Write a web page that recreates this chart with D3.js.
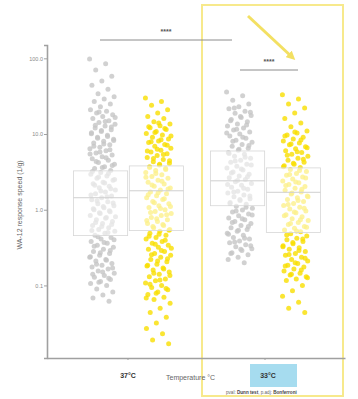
<!DOCTYPE html>
<html>
<head>
<meta charset="utf-8">
<script src="https://cdn.jsdelivr.net/npm/d3@7"></script>
<style>
  body { margin: 0; background: #fff; }
  text { font-family: "Liberation Sans", Arial, sans-serif; }
</style>
</head>
<body>
<script>
// groups on the x axis and the two conditions inside each group
const temps = ["37°C", "33°C"];
const conds = ["grey", "yellow"];
const yTicks = [0.1, 1, 10, 100];

const grey37 = [98, 85, 70, 58, 50, 44, 39, 34, 31, 29, 27, 25, 23, 21, 20, 19, 18, 17, 16, 15,
  14.2, 13.5, 12.8, 12, 11.4, 10.8, 10.1, 9.6, 9.1, 8.5, 8.0, 7.6, 7.2, 6.7, 6.4, 6.0, 5.6, 5.3, 5.0, 4.7,
  4.5, 4.2, 4.0, 3.7, 3.5, 3.3, 3.1, 2.95, 2.8, 2.6, 2.45, 2.3, 2.2, 2.05, 1.95, 1.82, 1.72, 1.62, 1.52, 1.44,
  1.35, 1.27, 1.2, 1.13, 1.06, 1.0, 0.94, 0.89, 0.84, 0.79, 0.74, 0.7, 0.66, 0.62, 0.58, 0.55, 0.52, 0.49, 0.46, 0.43,
  0.41, 0.38, 0.36, 0.34, 0.32, 0.3, 0.28, 0.265, 0.25, 0.235, 0.22, 0.21, 0.195, 0.185, 0.175, 0.165, 0.155, 0.145,
  0.135, 0.128, 0.12, 0.113, 0.106, 0.1, 0.09, 0.082, 0.075, 0.068, 0.062,
  19.5, 16.5, 14.6, 13.1, 12.4, 11.1, 10.4, 9.3, 8.8, 8.2, 7.4, 6.9, 6.2, 5.8, 5.45, 4.85, 4.35, 3.85, 3.6, 3.2,
  3.0, 2.7, 2.5, 2.25, 2.1, 1.9, 1.77, 1.57, 1.48, 1.31, 1.23, 1.1, 1.03, 0.97, 0.91, 0.81, 0.77, 0.68, 0.64, 0.6,
  0.53, 0.5, 0.44, 0.4, 0.37, 0.33, 0.29, 0.27, 0.24, 0.215, 0.19, 0.17, 0.15, 0.14, 0.124, 0.11];
const yellow37 = [30, 27, 24, 21, 19, 17, 16,
  14.5, 13.6, 12.9, 12.1, 11.5, 10.8, 10.2, 9.7, 9.1, 8.6, 8.1, 7.7, 7.3, 6.9, 6.5, 6.1, 5.8, 5.5, 5.2, 4.9,
  4.6, 4.3, 4.1, 3.9, 3.7, 3.5, 3.3, 3.1, 2.9, 2.75, 2.6, 2.45, 2.3, 2.18, 2.05, 1.93, 1.82, 1.72, 1.62, 1.53,
  1.44, 1.36, 1.28, 1.2, 1.13, 1.07, 1.0, 0.95, 0.89, 0.84, 0.79, 0.74, 0.7, 0.66, 0.62, 0.58, 0.55, 0.52, 0.49,
  0.46, 0.43, 0.41, 0.38, 0.36, 0.34, 0.32, 0.3, 0.28, 0.265, 0.25, 0.235, 0.22, 0.205, 0.19, 0.18, 0.17, 0.16,
  0.15, 0.14, 0.13, 0.122, 0.115, 0.108, 0.1, 0.094, 0.088, 0.082, 0.076, 0.07, 0.065,
  0.058, 0.05, 0.044, 0.038, 0.032, 0.027, 0.023, 0.019, 0.017,
  14, 12.5, 11.8, 10.5, 9.4, 8.4, 7.9, 7.1, 6.3, 5.95, 5.35, 4.75, 4.45, 4.0, 3.6, 3.4, 3.0, 2.68, 2.38, 2.12,
  1.88, 1.67, 1.58, 1.4, 1.24, 1.1, 1.04, 0.92, 0.86, 0.76, 0.72, 0.64, 0.6, 0.535, 0.475, 0.445, 0.395, 0.35,
  0.31, 0.29, 0.255, 0.225, 0.21, 0.185, 0.165, 0.145, 0.135, 0.118, 0.104, 0.091, 0.079, 0.068];
const grey33 = [36, 32, 28, 25,
  23, 21.5, 20, 18.8, 17.6, 16.5, 15.5, 14.5, 13.6, 12.8, 12, 11.3, 10.6, 10, 9.4, 8.8, 8.3, 7.8, 7.3, 6.9,
  6.5, 6.1, 5.7, 5.4, 5.1, 4.8, 4.5, 4.25, 4.0, 3.75, 3.55, 3.35, 3.15, 2.95, 2.8, 2.65, 2.5, 2.35, 2.22, 2.1,
  1.98, 1.87, 1.76, 1.66, 1.57, 1.48, 1.4, 1.32, 1.25, 1.18, 1.11, 1.05, 0.99, 0.93, 0.88, 0.83, 0.78, 0.74,
  0.7, 0.66, 0.62, 0.58, 0.55, 0.52, 0.49, 0.46, 0.43, 0.41, 0.385, 0.365, 0.345, 0.325, 0.305, 0.29, 0.27, 0.255,
  0.235, 0.22, 0.2,
  22, 19.4, 17, 15, 13.2, 11.6, 10.3, 9.1, 8.0, 7.05, 6.3, 5.55, 4.95, 4.4, 3.9, 3.45, 3.05, 2.72, 2.43, 2.16,
  1.92, 1.71, 1.52, 1.36, 1.21, 1.08, 0.96, 0.85, 0.76, 0.68, 0.6, 0.535, 0.475, 0.42, 0.375, 0.335, 0.3, 0.265];
const yellow33 = [33, 29, 25, 22, 19, 16, 14, 12.5,
  11, 10.3, 9.7, 9.1, 8.6, 8.1, 7.6, 7.2, 6.8, 6.4, 6.0, 5.7, 5.4, 5.1, 4.8, 4.5, 4.25, 4.0, 3.8, 3.6, 3.4,
  3.2, 3.0, 2.85, 2.7, 2.55, 2.4, 2.27, 2.15, 2.03, 1.92, 1.81, 1.71, 1.61, 1.52, 1.44, 1.36, 1.28, 1.21, 1.14,
  1.08, 1.02, 0.96, 0.91, 0.86, 0.81, 0.76, 0.72, 0.68, 0.64, 0.6, 0.57, 0.54, 0.51, 0.48, 0.45, 0.42, 0.4,
  0.38, 0.355, 0.335, 0.315, 0.3, 0.28, 0.265, 0.25, 0.235, 0.22, 0.21, 0.195, 0.185, 0.175, 0.165, 0.155,
  0.145, 0.137, 0.13, 0.122, 0.116, 0.1, 0.085, 0.072, 0.06, 0.05, 0.044,
  10.6, 9.4, 8.35, 7.4, 6.6, 5.85, 5.25, 4.65, 4.12, 3.7, 3.3, 2.92, 2.62, 2.33, 2.09, 1.86, 1.66, 1.48, 1.32,
  1.17, 1.05, 0.93, 0.83, 0.74, 0.66, 0.585, 0.525, 0.465, 0.41, 0.37, 0.325, 0.29, 0.257, 0.228, 0.2, 0.18,
  0.16, 0.141, 0.126];

// box summaries (37 grey, 37 yellow, 33 grey, 33 yellow)
const boxQ1 = [0.455, 0.53, 1.13, 0.5];
const boxMed = [1.44, 1.78, 2.41, 1.7];
const boxQ3 = [3.26, 3.79, 5.97, 3.57];

const W = 358, H = 399;
const svg = d3.select("body").append("svg")
  .attr("width", W)
  .attr("height", H);

const x = d3.scalePoint().domain(temps).range([47, 345]).padding(0.5875);
const xc = d3.scaleBand().domain(conds).range([-54, 56]).paddingInner(0.03);
const y = d3.scaleLog().domain([0.011, 150]).range([358, 45]);

const colors = { grey: "#c6c6c6", yellow: "#f9df00" };

// highlight frame around the 33°C group
svg.append("rect")
  .attr("x", 202).attr("y", 5)
  .attr("width", 141).attr("height", 391)
  .attr("fill", "none")
  .attr("stroke", "#f7e98c")
  .attr("stroke-width", 2);

const series = [
  { t: "37°C", c: "grey", v: grey37 },
  { t: "37°C", c: "yellow", v: yellow37 },
  { t: "33°C", c: "grey", v: grey33 },
  { t: "33°C", c: "yellow", v: yellow33 }
];

// jittered points
series.forEach(s => {
  const cx = x(s.t) + xc(s.c) + xc.bandwidth() / 2 + 2;
  svg.append("g").selectAll("circle")
    .data(s.v)
    .enter()
    .append("circle")
    .attr("cx", (d, i) => cx + (((i * 0.618034) % 1) - 0.5) * 26)
    .attr("cy", d => y(d))
    .attr("r", 2.5)
    .attr("fill", colors[s.c])
    .attr("fill-opacity", 0.8);
});

// boxes drawn over the points
series.forEach((s, i) => {
  const x0 = x(s.t) + xc(s.c);
  const g = svg.append("g");
  g.append("rect")
    .attr("x", x0)
    .attr("y", y(boxQ3[i]))
    .attr("width", xc.bandwidth())
    .attr("height", y(boxQ1[i]) - y(boxQ3[i]))
    .attr("fill", "#fff")
    .attr("fill-opacity", 0.55)
    .attr("stroke", "#d6d6d6")
    .attr("stroke-width", 0.8);
  g.append("line")
    .attr("x1", x0).attr("x2", x0 + xc.bandwidth())
    .attr("y1", y(boxMed[i])).attr("y2", y(boxMed[i]))
    .attr("stroke", "#cfcfcf")
    .attr("stroke-width", 1);
});

// y axis
const yAxis = svg.append("g")
  .attr("transform", "translate(47,0)")
  .call(d3.axisLeft(y).tickValues(yTicks).tickFormat(d3.format(".1f")).tickSize(3));
yAxis.select(".domain").attr("stroke", "#a0a0a0").attr("stroke-width", 1.6);
yAxis.selectAll(".tick line").attr("stroke", "#a0a0a0");
yAxis.selectAll(".tick text").attr("fill", "#8a8a8a").style("font-size", "5.5px").attr("x", -4);

svg.append("text")
  .attr("transform", "translate(22,205) rotate(-90)")
  .attr("text-anchor", "middle")
  .attr("fill", "#666")
  .style("font-size", "7px")
  .text("WA-12 response speed (1/g)");

// x axis
const xAxis = svg.append("g")
  .attr("transform", "translate(0,358)")
  .call(d3.axisBottom(x).tickSize(2).tickSizeOuter(0));
xAxis.select(".domain").attr("stroke", "#a0a0a0").attr("stroke-width", 1.6);
xAxis.selectAll(".tick line").attr("stroke", "#a0a0a0");
xAxis.selectAll(".tick text")
  .attr("fill", "#333")
  .attr("y", 15)
  .style("font-size", "7px")
  .style("font-weight", "bold");

// blue highlight behind the 33°C label
xAxis.selectAll(".tick").filter(d => d === "33°C")
  .each(function() {
    d3.select(this).insert("rect", "text")
      .attr("x", -15).attr("y", 6)
      .attr("width", 47).attr("height", 23)
      .attr("fill", "#a6dcef");
    d3.select(this).select("text").attr("x", 3);
  });

svg.append("text")
  .attr("x", 166).attr("y", 380)
  .attr("fill", "#666")
  .style("font-size", "7px")
  .text("Temperature °C");

const note = svg.append("text")
  .attr("x", 226).attr("y", 394)
  .attr("fill", "#666")
  .style("font-size", "4.6px");
note.append("tspan").text("pval: ");
note.append("tspan").style("font-weight", "bold").attr("fill", "#444").text("Dunn test");
note.append("tspan").text(", p.adj: ");
note.append("tspan").style("font-weight", "bold").attr("fill", "#444").text("Bonferroni");

// significance brackets
const brackets = [
  { x1: 100, x2: 232, yy: 40, label: "****" },
  { x1: 240, x2: 298, yy: 70, label: "****" }
];
brackets.forEach(b => {
  svg.append("line")
    .attr("x1", b.x1).attr("x2", b.x2)
    .attr("y1", b.yy).attr("y2", b.yy)
    .attr("stroke", "#8c8c8c")
    .attr("stroke-width", 1);
  svg.append("text")
    .attr("x", (b.x1 + b.x2) / 2).attr("y", b.yy - 6)
    .attr("text-anchor", "middle")
    .attr("fill", "#555")
    .style("font-size", "7px")
    .style("font-weight", "bold")
    .text(b.label);
});

// trend arrow
svg.append("defs").append("marker")
  .attr("id", "head")
  .attr("viewBox", "0 0 10 10")
  .attr("refX", 5).attr("refY", 5)
  .attr("markerWidth", 3).attr("markerHeight", 3)
  .attr("orient", "auto")
  .append("path")
  .attr("d", "M0,0L10,5L0,10z")
  .attr("fill", "#f3e062");
svg.append("line")
  .attr("x1", 248).attr("y1", 16)
  .attr("x2", 292).attr("y2", 57)
  .attr("stroke", "#f3e062")
  .attr("stroke-width", 3)
  .attr("marker-end", "url(#head)");
</script>
</body>
</html>
